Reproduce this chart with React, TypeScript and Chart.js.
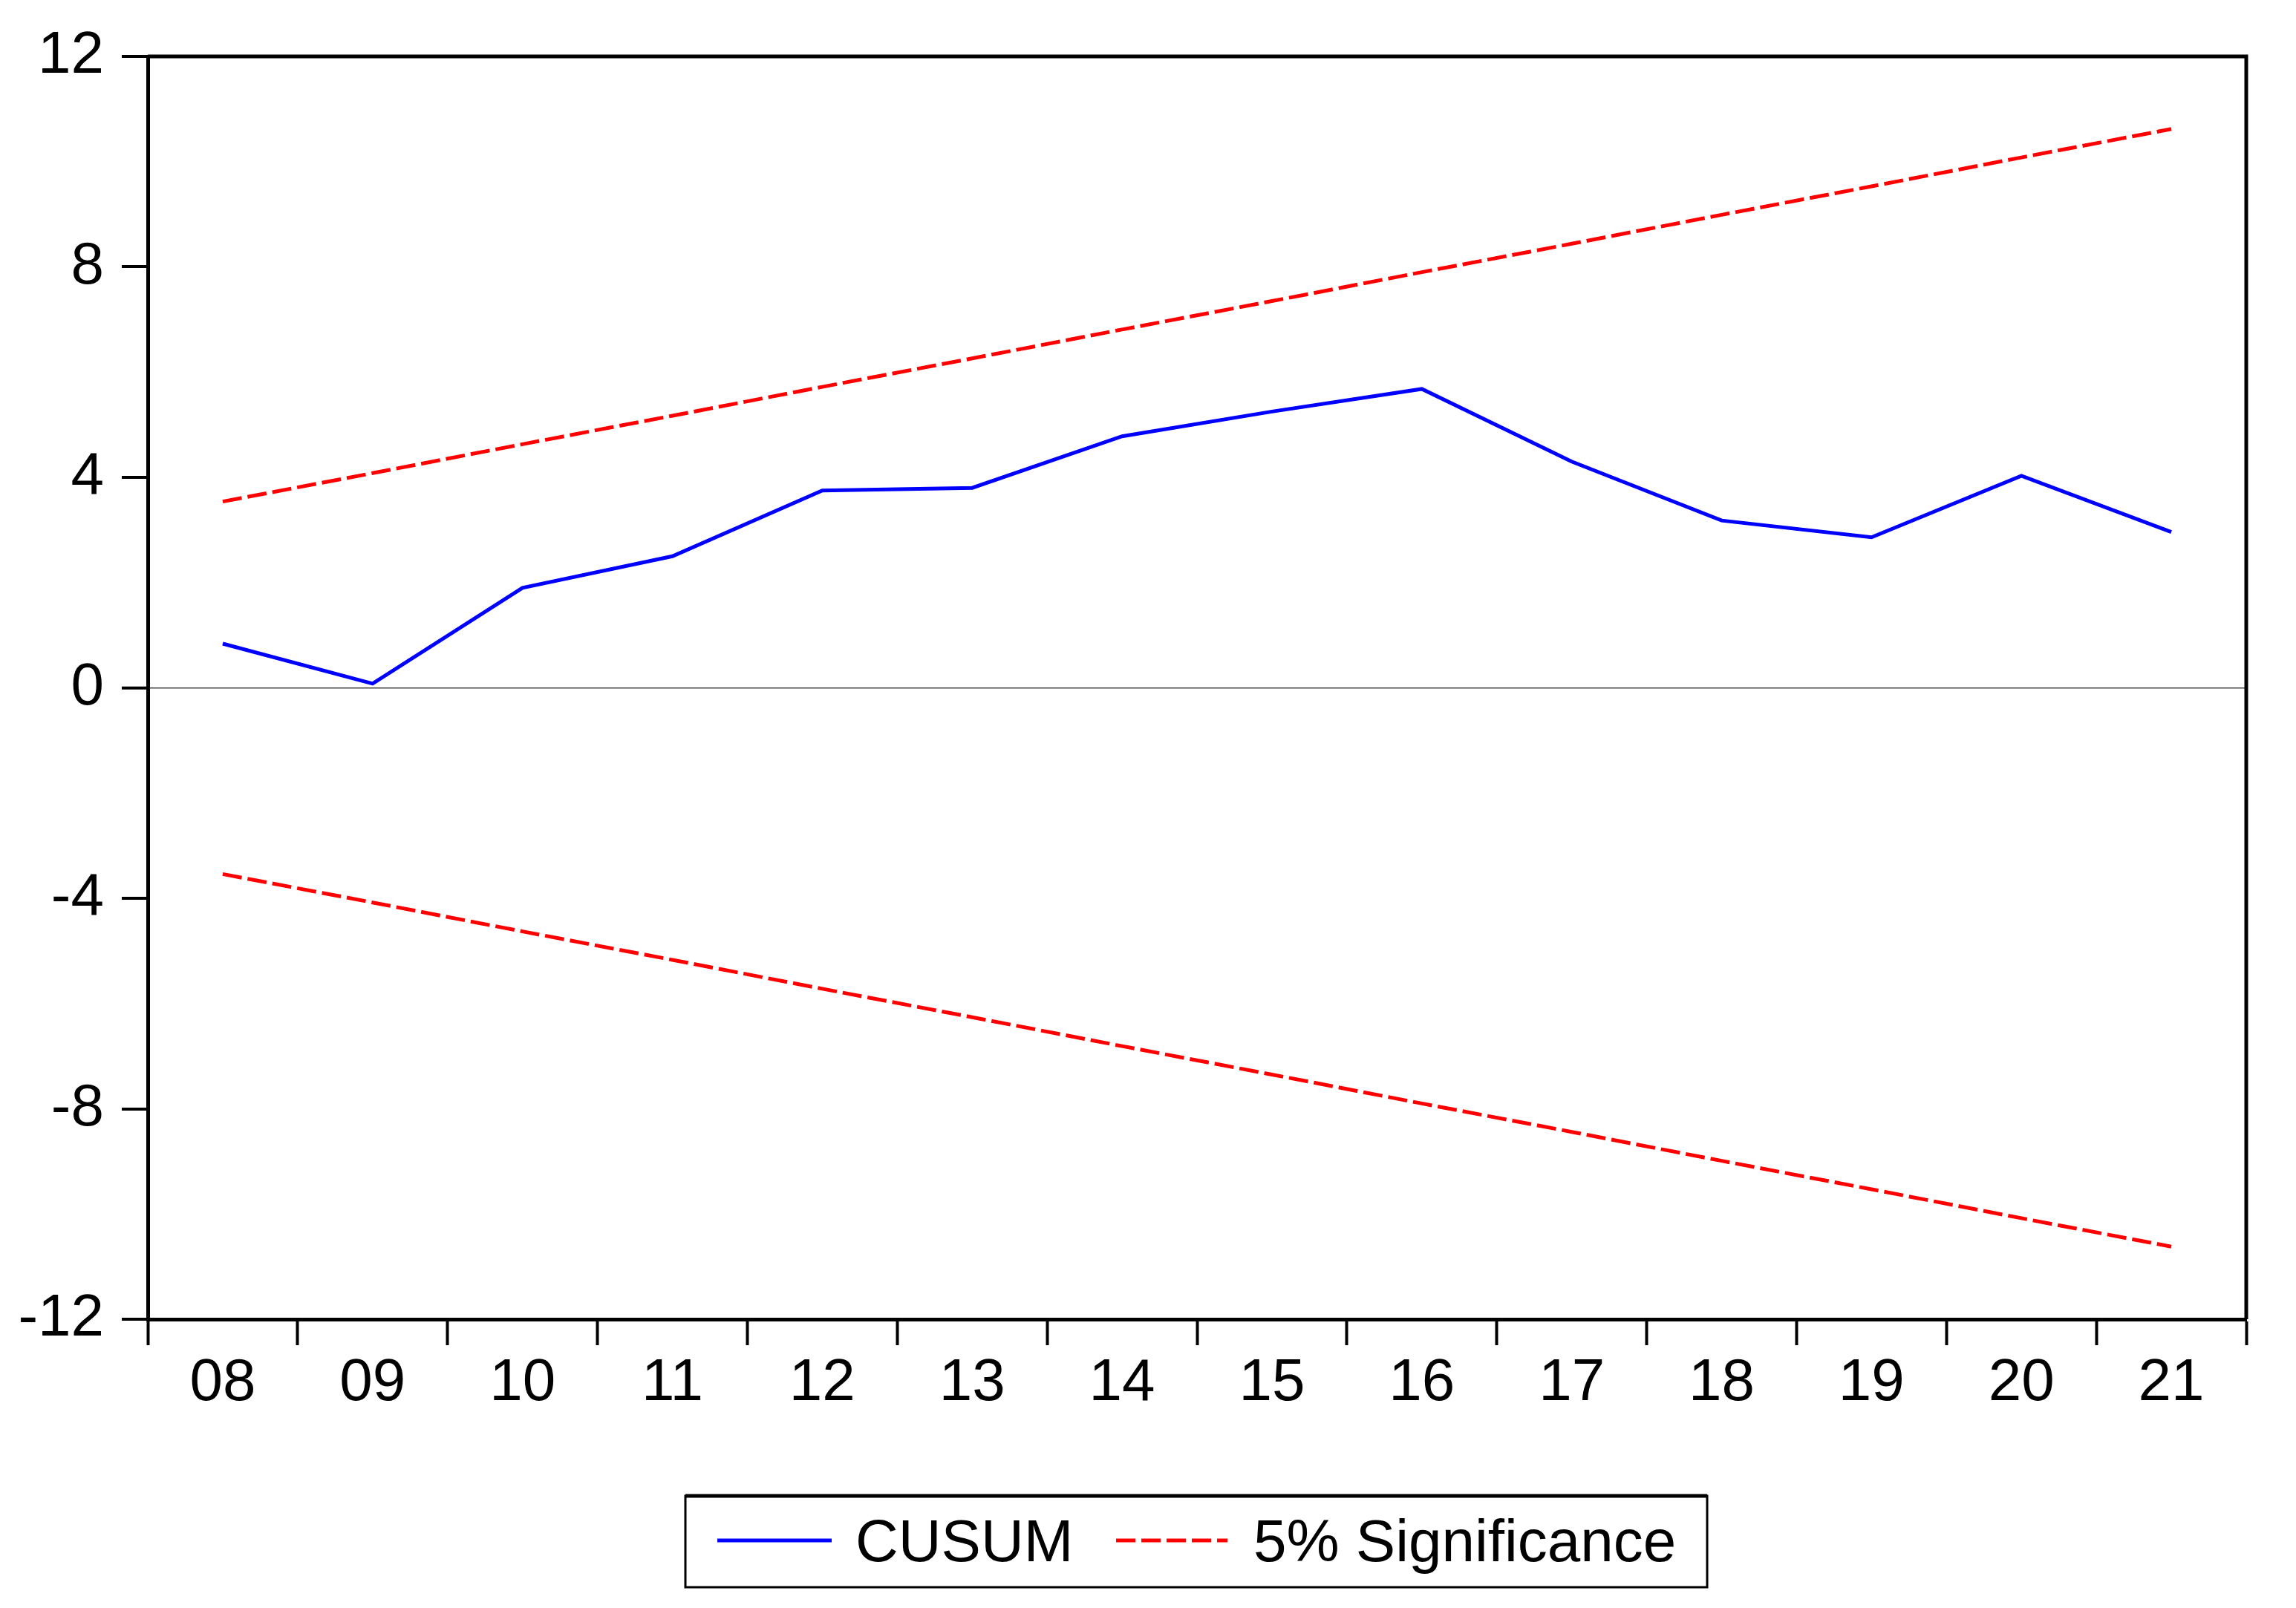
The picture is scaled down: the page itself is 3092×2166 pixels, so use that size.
import React, { useEffect, useRef } from 'react';
import { Chart, registerables } from 'chart.js';

Chart.register(...registerables);

const categories = ['08', '09', '10', '11', '12', '13', '14', '15', '16', '17', '18', '19', '20', '21'];
const cusum = [0.84, 0.08, 1.9, 2.5, 3.75, 3.8, 4.78, 5.25, 5.68, 4.3, 3.18, 2.86, 4.03, 2.96];
const upper5 = [3.54, 4.08, 4.63, 5.17, 5.72, 6.26, 6.81, 7.35, 7.9, 8.44, 8.99, 9.53, 10.08, 10.62];
const lower5 = [-3.54, -4.08, -4.63, -5.17, -5.72, -6.26, -6.81, -7.35, -7.9, -8.44, -8.99, -9.53, -10.08, -10.62];
const yMin = -12;
const yMax = 12;
const yStep = 4;

const FONT = 'Liberation Sans, Arial, sans-serif';

const framePlugin = {
  id: 'frameAndLegend',
  afterDraw(chart: any) {
    const { ctx, chartArea } = chart;
    ctx.save();
    // frame top and right
    ctx.strokeStyle = '#000';
    ctx.lineWidth = 5;
    ctx.beginPath();
    ctx.moveTo(chartArea.left, chartArea.top);
    ctx.lineTo(chartArea.right, chartArea.top);
    ctx.lineTo(chartArea.right, chartArea.bottom);
    ctx.stroke();

    // legend
    const boxL = 923, boxR = 2299, boxT = 2015, boxB = 2138;
    ctx.lineWidth = 3;
    ctx.strokeRect(boxL, boxT, boxR - boxL, boxB - boxT);
    ctx.lineWidth = 5;
    ctx.beginPath();
    ctx.moveTo(boxL, boxT);
    ctx.lineTo(boxR, boxT);
    ctx.stroke();

    const ds = chart.data.datasets;
    const items = [
      { d: ds[0], x0: 966, x1: 1120, tx: 1152 },
      { d: ds[1], x0: 1503, x1: 1653, tx: 1688 },
    ];
    const cy = 2075;
    ctx.font = `80px ${FONT}`;
    ctx.textBaseline = 'alphabetic';
    ctx.textAlign = 'left';
    for (const it of items) {
      ctx.strokeStyle = it.d.borderColor;
      ctx.lineWidth = 5;
      ctx.setLineDash(it.d.borderDash || []);
      ctx.beginPath();
      ctx.moveTo(it.x0, cy);
      ctx.lineTo(it.x1, cy);
      ctx.stroke();
      ctx.setLineDash([]);
      ctx.fillStyle = '#000';
      ctx.fillText(it.d.label, it.tx, 2103);
    }
    ctx.restore();
  },
};

export default function App() {
  const ref = useRef<HTMLCanvasElement | null>(null);

  useEffect(() => {
    document.body.style.margin = '0';
    const canvas = ref.current;
    if (!canvas) return;
    const chart = new Chart(canvas, {
      type: 'line',
      data: {
        labels: categories,
        datasets: [
          {
            label: 'CUSUM',
            data: cusum,
            borderColor: '#0000FF',
            backgroundColor: '#0000FF',
            borderWidth: 5,
            pointRadius: 0,
            tension: 0,
          },
          {
            label: '5% Significance',
            data: upper5,
            borderColor: '#FF0000',
            backgroundColor: '#FF0000',
            borderWidth: 5,
            borderDash: [26, 8],
            pointRadius: 0,
            tension: 0,
          },
          {
            label: '5% Significance lower',
            data: lower5,
            borderColor: '#FF0000',
            backgroundColor: '#FF0000',
            borderWidth: 5,
            borderDash: [26, 8],
            pointRadius: 0,
            tension: 0,
          },
        ],
      },
      options: {
        responsive: false,
        devicePixelRatio: 1,
        animation: false,
        layout: { padding: { top: 76, right: 67, bottom: 0, left: 0 } },
        plugins: {
          legend: { display: false },
          tooltip: { enabled: false },
          title: { display: false },
        },
        scales: {
          x: {
            type: 'category',
            offset: true,
            grid: {
              offset: true,
              drawOnChartArea: false,
              drawTicks: true,
              tickLength: 35,
              tickWidth: 4,
              tickColor: '#000',
            },
            border: { display: true, color: '#000', width: 5 },
            ticks: {
              color: '#000',
              font: { family: FONT, size: 80 },
              padding: 4,
              maxRotation: 0,
              autoSkip: false,
            },
            afterFit(scale: any) {
              scale.height = 389;
            },
          },
          y: {
            min: yMin,
            max: yMax,
            grid: {
              drawOnChartArea: true,
              drawTicks: true,
              tickLength: 35,
              tickWidth: 4,
              tickColor: '#000',
              color: (c: any) => (c.tick && c.tick.value === 0 ? '#444' : 'rgba(0,0,0,0)'),
              lineWidth: (c: any) => (c.tick && c.tick.value === 0 ? 1.5 : 0),
            },
            border: { display: true, color: '#000', width: 5 },
            ticks: {
              stepSize: yStep,
              color: '#000',
              font: { family: FONT, size: 80 },
              padding: 24,
            },
            afterFit(scale: any) {
              scale.width = 199;
            },
          },
        },
      },
      plugins: [framePlugin],
    });
    return () => chart.destroy();
  }, []);

  return (
    <canvas
      ref={ref}
      width={3092}
      height={2166}
      style={{ display: 'block', position: 'fixed', left: 0, top: 0, width: '3092px', height: '2166px', background: '#fff' }}
    />
  );
}
